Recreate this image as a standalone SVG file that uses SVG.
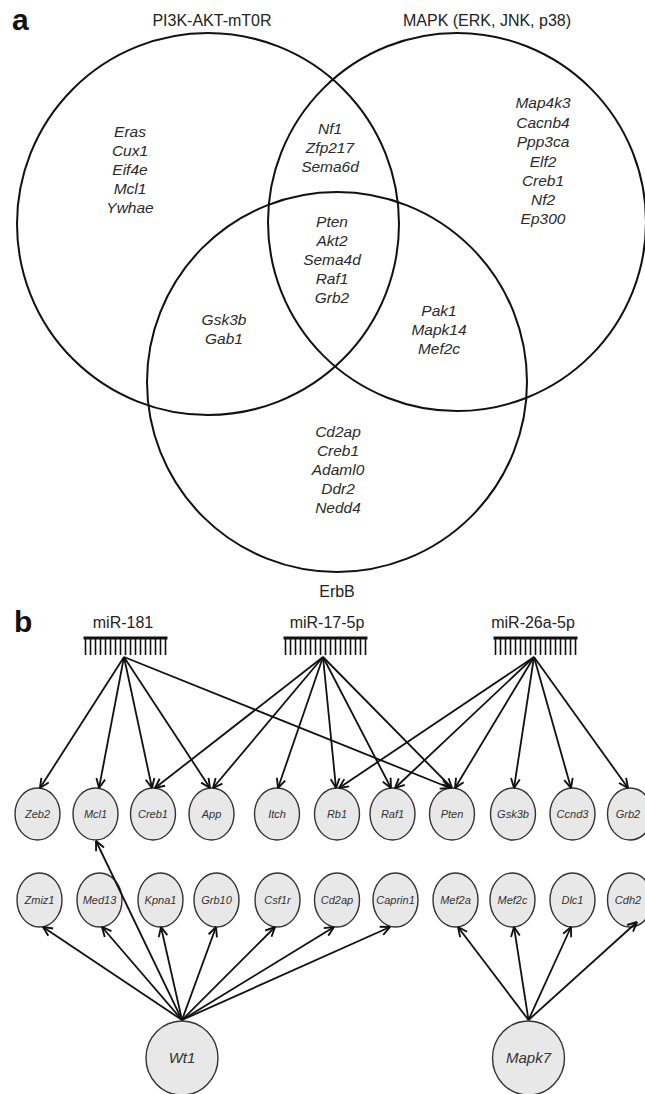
<svg xmlns="http://www.w3.org/2000/svg" xmlns:xlink="http://www.w3.org/1999/xlink" width="645" height="1094" viewBox="0 0 645 1094">
<style>
.venn{fill:none;stroke:#111;stroke-width:2}
.gene{font-family:"Liberation Sans",Arial,sans-serif;font-style:italic;font-size:15.5px;fill:#2a2a2a;text-anchor:middle}
.title{font-family:"Liberation Sans",Arial,sans-serif;font-size:16px;fill:#222;text-anchor:middle}
.panel{font-family:"Liberation Sans",Arial,sans-serif;font-weight:bold;font-size:30px;fill:#111}
.node ellipse{fill:#e8e8e8;stroke:#333;stroke-width:1.4}
.node text{font-family:"Liberation Sans",Arial,sans-serif;font-style:italic;font-size:11px;fill:#333;text-anchor:middle}
.big text{font-size:15px}
.edge{stroke:#111;stroke-width:1.8;fill:none;marker-end:url(#arr)}
.comb line{stroke:#111}
</style>
<defs>
<marker id="arr" viewBox="0 0 10 10" refX="9.5" refY="5" markerWidth="11" markerHeight="11" markerUnits="userSpaceOnUse" orient="auto">
<path d="M1,1 L9.5,5 L1,9" fill="none" stroke="#111" stroke-width="1.7"/>
</marker>
<g id="comb" class="comb">
<line x1="-42" y1="0" x2="42" y2="0" stroke-width="3"/>
<g stroke-width="1.6">
<line x1="-40" y1="0" x2="-40" y2="17"/><line x1="-35" y1="0" x2="-35" y2="17"/><line x1="-30" y1="0" x2="-30" y2="17"/><line x1="-25" y1="0" x2="-25" y2="17"/><line x1="-20" y1="0" x2="-20" y2="17"/><line x1="-15" y1="0" x2="-15" y2="17"/><line x1="-10" y1="0" x2="-10" y2="17"/><line x1="-5" y1="0" x2="-5" y2="17"/><line x1="0" y1="0" x2="0" y2="17"/><line x1="5" y1="0" x2="5" y2="17"/><line x1="10" y1="0" x2="10" y2="17"/><line x1="15" y1="0" x2="15" y2="17"/><line x1="20" y1="0" x2="20" y2="17"/><line x1="25" y1="0" x2="25" y2="17"/><line x1="30" y1="0" x2="30" y2="17"/><line x1="35" y1="0" x2="35" y2="17"/><line x1="40" y1="0" x2="40" y2="17"/>
</g>
</g>
</defs>
<rect width="645" height="1094" fill="#fff"/>

<!-- Panel a -->
<text class="panel" x="12" y="30">a</text>
<g id="venn-pi3k">
<circle class="venn" cx="208" cy="224" r="191"/>
<text class="title" x="212" y="26">PI3K-AKT-mT0R</text>
<text class="gene" x="130" y="137">Eras</text>
<text class="gene" x="130" y="156">Cux1</text>
<text class="gene" x="130" y="175">Eif4e</text>
<text class="gene" x="130" y="194">Mcl1</text>
<text class="gene" x="130" y="213">Ywhae</text>
</g>
<g id="venn-mapk">
<circle class="venn" cx="457" cy="222" r="189"/>
<text class="title" x="487" y="26">MAPK (ERK, JNK, p38)</text>
<text class="gene" x="543" y="108">Map4k3</text>
<text class="gene" x="543" y="127.5">Cacnb4</text>
<text class="gene" x="543" y="147">Ppp3ca</text>
<text class="gene" x="543" y="166.5">Elf2</text>
<text class="gene" x="543" y="186">Creb1</text>
<text class="gene" x="543" y="205">Nf2</text>
<text class="gene" x="543" y="224">Ep300</text>
</g>
<g id="venn-erbb">
<circle class="venn" cx="337" cy="382" r="190"/>
<text class="title" x="337" y="597">ErbB</text>
<text class="gene" x="338" y="437">Cd2ap</text>
<text class="gene" x="338" y="456">Creb1</text>
<text class="gene" x="338" y="475">Adaml0</text>
<text class="gene" x="338" y="494">Ddr2</text>
<text class="gene" x="338" y="513">Nedd4</text>
</g>
<g id="venn-pi3k-mapk">
<text class="gene" x="330" y="134">Nf1</text>
<text class="gene" x="330" y="153">Zfp217</text>
<text class="gene" x="330" y="172">Sema6d</text>
</g>
<g id="venn-all">
<text class="gene" x="332" y="227">Pten</text>
<text class="gene" x="332" y="246">Akt2</text>
<text class="gene" x="332" y="265">Sema4d</text>
<text class="gene" x="332" y="284">Raf1</text>
<text class="gene" x="332" y="303">Grb2</text>
</g>
<g id="venn-pi3k-erbb">
<text class="gene" x="224" y="325">Gsk3b</text>
<text class="gene" x="224" y="344">Gab1</text>
</g>
<g id="venn-mapk-erbb">
<text class="gene" x="439" y="316">Pak1</text>
<text class="gene" x="439" y="335">Mapk14</text>
<text class="gene" x="439" y="354">Mef2c</text>
</g>

<!-- Panel b -->
<text class="panel" x="14" y="632">b</text>
<g id="mir-181">
<text class="title" x="123" y="628">miR-181</text>
<use xlink:href="#comb" x="125.5" y="638"/>
</g>
<g id="mir-17-5p">
<text class="title" x="327" y="628">miR-17-5p</text>
<use xlink:href="#comb" x="325.5" y="638"/>
</g>
<g id="mir-26a-5p">
<text class="title" x="533" y="628">miR-26a-5p</text>
<use xlink:href="#comb" x="535.5" y="638"/>
</g>

<g id="n-Zeb2" class="node"><ellipse cx="37.5" cy="814" rx="22.5" ry="26"/><text x="37.5" y="818">Zeb2</text></g>
<g id="n-Mcl1" class="node"><ellipse cx="95.5" cy="814" rx="22.5" ry="26"/><text x="95.5" y="818">Mcl1</text></g>
<g id="n-Creb1" class="node"><ellipse cx="153" cy="814" rx="22.5" ry="26"/><text x="153" y="818">Creb1</text></g>
<g id="n-App" class="node"><ellipse cx="211.5" cy="814" rx="22.5" ry="26"/><text x="211.5" y="818">App</text></g>
<g id="n-Itch" class="node"><ellipse cx="277" cy="814" rx="22.5" ry="26"/><text x="277" y="818">Itch</text></g>
<g id="n-Rb1" class="node"><ellipse cx="337" cy="814" rx="22.5" ry="26"/><text x="337" y="818">Rb1</text></g>
<g id="n-Raf1" class="node"><ellipse cx="392.5" cy="814" rx="22.5" ry="26"/><text x="392.5" y="818">Raf1</text></g>
<g id="n-Pten" class="node"><ellipse cx="452" cy="814" rx="22.5" ry="26"/><text x="452" y="818">Pten</text></g>
<g id="n-Gsk3b" class="node"><ellipse cx="513" cy="814" rx="22.5" ry="26"/><text x="513" y="818">Gsk3b</text></g>
<g id="n-Ccnd3" class="node"><ellipse cx="572.5" cy="814" rx="22.5" ry="26"/><text x="572.5" y="818">Ccnd3</text></g>
<g id="n-Grb2" class="node"><ellipse cx="630" cy="814" rx="22.5" ry="26"/><text x="628" y="818">Grb2</text></g>

<g id="n-Zmiz1" class="node"><ellipse cx="39.5" cy="900" rx="22.5" ry="27"/><text x="39.5" y="904">Zmiz1</text></g>
<g id="n-Med13" class="node"><ellipse cx="99.5" cy="900" rx="22.5" ry="27"/><text x="99.5" y="904">Med13</text></g>
<g id="n-Kpna1" class="node"><ellipse cx="160.5" cy="900" rx="22.5" ry="27"/><text x="160.5" y="904">Kpna1</text></g>
<g id="n-Grb10" class="node"><ellipse cx="216.5" cy="900" rx="22.5" ry="27"/><text x="216.5" y="904">Grb10</text></g>
<g id="n-Csf1r" class="node"><ellipse cx="277.5" cy="900" rx="22.5" ry="27"/><text x="277.5" y="904">Csf1r</text></g>
<g id="n-Cd2ap" class="node"><ellipse cx="337" cy="900" rx="22.5" ry="27"/><text x="337" y="904">Cd2ap</text></g>
<g id="n-Caprin1" class="node"><ellipse cx="395.5" cy="900" rx="22.5" ry="27"/><text x="395.5" y="904">Caprin1</text></g>
<g id="n-Mef2a" class="node"><ellipse cx="455.5" cy="900" rx="22.5" ry="27"/><text x="455.5" y="904">Mef2a</text></g>
<g id="n-Mef2c" class="node"><ellipse cx="512.5" cy="900" rx="22.5" ry="27"/><text x="512.5" y="904">Mef2c</text></g>
<g id="n-Dlc1" class="node"><ellipse cx="572.5" cy="900" rx="22.5" ry="27"/><text x="572.5" y="904">Dlc1</text></g>
<g id="n-Cdh2" class="node"><ellipse cx="630" cy="900" rx="22.5" ry="27"/><text x="628" y="904">Cdh2</text></g>

<g id="n-Wt1" class="node big"><ellipse cx="182" cy="1058" rx="36" ry="37"/><text x="182" y="1063">Wt1</text></g>
<g id="n-Mapk7" class="node big"><ellipse cx="528.5" cy="1058" rx="36" ry="37"/><text x="528.5" y="1063">Mapk7</text></g>

<g id="connectors">
<line class="edge" x1="124" y1="657" x2="40" y2="788"/>
<line class="edge" x1="124" y1="657" x2="99" y2="788"/>
<line class="edge" x1="124" y1="657" x2="152" y2="788"/>
<line class="edge" x1="124" y1="657" x2="210" y2="788"/>
<line class="edge" x1="124" y1="657" x2="450" y2="788"/>

<line class="edge" x1="323" y1="657" x2="155" y2="788"/>
<line class="edge" x1="323" y1="657" x2="213" y2="788"/>
<line class="edge" x1="323" y1="657" x2="278" y2="788"/>
<line class="edge" x1="323" y1="657" x2="336" y2="788"/>
<line class="edge" x1="323" y1="657" x2="391" y2="788"/>
<line class="edge" x1="323" y1="657" x2="452" y2="788"/>

<line class="edge" x1="534" y1="657" x2="339" y2="788"/>
<line class="edge" x1="534" y1="657" x2="395" y2="788"/>
<line class="edge" x1="534" y1="657" x2="455" y2="788"/>
<line class="edge" x1="534" y1="657" x2="514" y2="788"/>
<line class="edge" x1="534" y1="657" x2="571" y2="788"/>
<line class="edge" x1="534" y1="657" x2="628" y2="788"/>

<line class="edge" x1="182" y1="1020" x2="43" y2="927"/>
<line class="edge" x1="182" y1="1020" x2="102" y2="927"/>
<line class="edge" x1="182" y1="1020" x2="96" y2="841"/>
<line class="edge" x1="182" y1="1020" x2="161" y2="927"/>
<line class="edge" x1="182" y1="1020" x2="216" y2="927"/>
<line class="edge" x1="182" y1="1020" x2="275" y2="927"/>
<line class="edge" x1="182" y1="1020" x2="334" y2="927"/>
<line class="edge" x1="182" y1="1020" x2="390" y2="927"/>

<line class="edge" x1="528.5" y1="1020" x2="458" y2="927"/>
<line class="edge" x1="528.5" y1="1020" x2="514" y2="927"/>
<line class="edge" x1="528.5" y1="1020" x2="571" y2="927"/>
<line class="edge" x1="528.5" y1="1020" x2="637" y2="922"/>
</g>
</svg>
